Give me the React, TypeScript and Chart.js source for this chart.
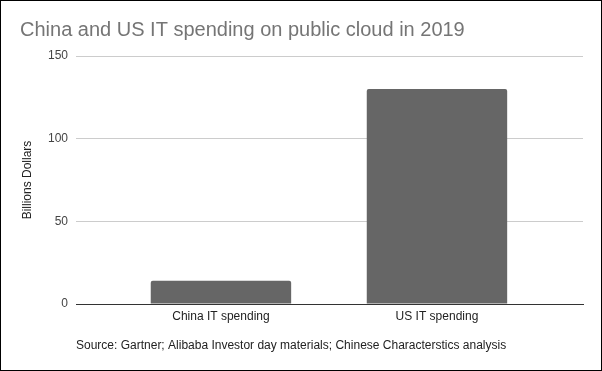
import React, { useEffect, useRef } from "react";
import { Chart, registerables } from "chart.js";

Chart.register(...registerables);

const categories: string[] = ["China IT spending", "US IT spending"];
const spending: number[] = [14, 130];
const yTicks: number[] = [0, 50, 100, 150];
const chartTitle = "China and US IT spending on public cloud in 2019";
const yAxisTitle = "Billions Dollars";
const sourceNote = "Source: Gartner; Alibaba Investor day materials; Chinese Characterstics analysis";

const FONT = "'Liberation Sans', Arial, Helvetica, sans-serif";

export default function App() {
  const canvasRef = useRef<HTMLCanvasElement | null>(null);

  useEffect(() => {
    const canvas = canvasRef.current;
    if (!canvas) return;
    Chart.defaults.font.family = FONT;

    const chart = new Chart(canvas, {
      type: "bar",
      data: {
        datasets: [
          {
            label: "Spending",
            data: categories.map((_, i) => ({ x: i, y: spending[i] })),
            backgroundColor: "#666666",
            borderWidth: 0,
            borderRadius: 2,
            categoryPercentage: 1,
            barPercentage: 0.65,
          },
        ],
      },
      options: {
        animation: false,
        responsive: false,
        devicePixelRatio: 1,
        layout: { padding: { left: 19, right: 18, top: 0, bottom: 0 } },
        plugins: {
          legend: { display: false },
          tooltip: { enabled: false },
          title: {
            display: true,
            text: chartTitle,
            align: "start",
            color: "#757575",
            font: { family: FONT, size: 20, weight: "normal" },
            padding: { top: 17, bottom: 14 },
          },
        },
        scales: {
          x: {
            type: "linear",
            offset: false,
            min: -0.671,
            max: 1.676,
            grid: { display: false, drawTicks: false, offset: false },
            border: { display: true, color: "#333333", width: 1 },
            afterBuildTicks: (scale: any) => {
              scale.ticks = categories.map((_, i) => ({ value: i }));
            },
            afterFit: (scale: any) => {
              scale.height = 66;
            },
            ticks: {
              autoSkip: false,
              maxRotation: 0,
              padding: 5,
              color: "#222222",
              font: { family: FONT, size: 12 },
              callback: (v: any) => categories[Math.round(Number(v))] ?? "",
            },
            title: {
              display: true,
              text: sourceNote,
              align: "start",
              color: "#222222",
              font: { family: FONT, size: 12 },
              padding: { top: 0, bottom: 17 },
            },
          },
          y: {
            min: yTicks[0],
            max: yTicks[yTicks.length - 1],
            afterBuildTicks: (scale: any) => {
              scale.ticks = yTicks.map((v) => ({ value: v }));
            },
            afterFit: (scale: any) => {
              scale.width = 56;
            },
            grid: {
              drawTicks: false,
              color: (ctx: any) => (ctx.tick && ctx.tick.value === 0 ? "#333333" : "#cccccc"),
            },
            border: { display: false },
            ticks: {
              padding: 8,
              color: "#444444",
              font: { family: FONT, size: 12 },
            },
            title: {
              display: true,
              text: yAxisTitle,
              color: "#222222",
              font: { family: FONT, size: 12 },
              padding: { top: 0, bottom: 0 },
            },
          },
        },
      },
    } as any);

    return () => chart.destroy();
  }, []);

  return (
    <div
      style={{
        position: "absolute",
        left: 0,
        top: 0,
        width: 602,
        height: 371,
        boxSizing: "border-box",
        border: "1px solid #000",
        background: "#fff",
      }}
    >
      <canvas ref={canvasRef} width={600} height={369} style={{ display: "block" }} />
    </div>
  );
}
